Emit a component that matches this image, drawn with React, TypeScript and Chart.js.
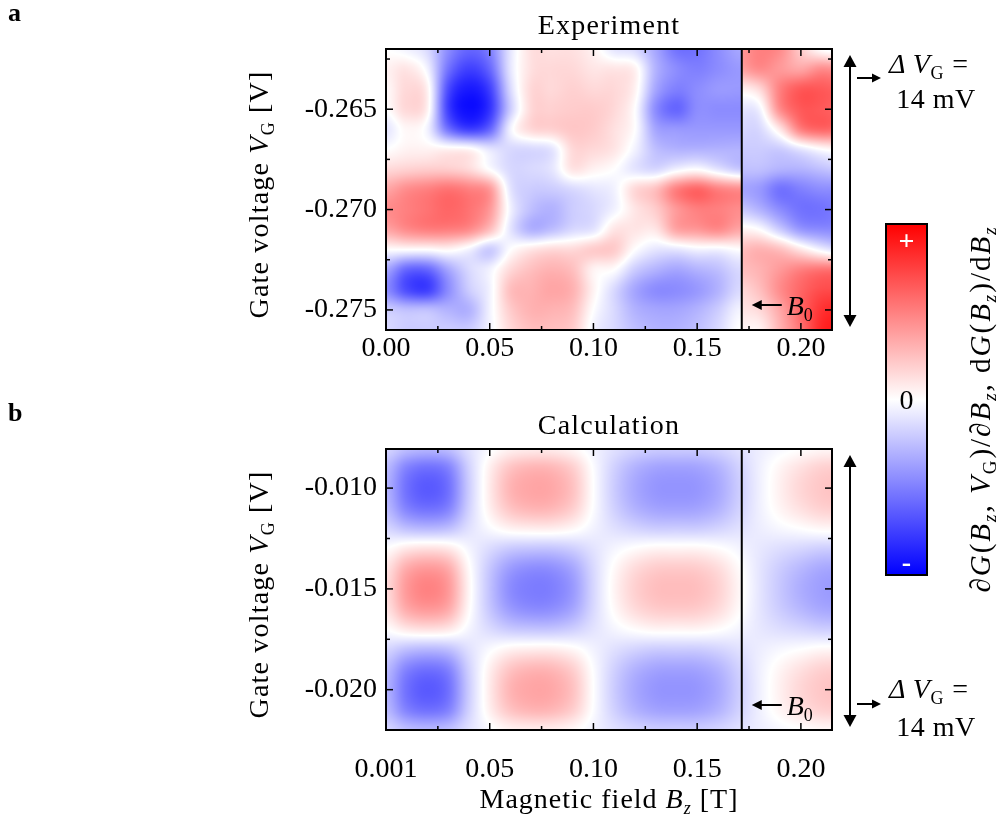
import React, { useEffect, useRef } from "react";
import { Chart, registerables } from "chart.js";

Chart.register(...registerables);

const SERIF = '"Liberation Serif", "Times New Roman", serif';

// ---- shared magnetic-field axis (T) ----
const fieldMin = 0;
const fieldMax = 0.215;
const fieldB0 = 0.1715;
const fieldMajorTicks = [0, 0.05, 0.1, 0.15, 0.2];
const fieldMinorTicks = [0.025, 0.075, 0.125, 0.175];
const expFieldLabels = ["0.00", "0.05", "0.10", "0.15", "0.20"];
const calcFieldLabels = ["0.001", "0.05", "0.10", "0.15", "0.20"];

// ---- experiment: gate axis (V) ----
const expGateMin = -0.276;
const expGateMax = -0.262;
const expGateMajorTicks = [-0.265, -0.27, -0.275];
const expGateMinorTicks = [-0.2625, -0.2675, -0.2725];
const expGateLabels = ["-0.265", "-0.270", "-0.275"];

// ---- calculation: gate axis (V) ----
const calcGateMin = -0.022;
const calcGateMax = -0.00806;
const calcGateMajorTicks = [-0.01, -0.015, -0.02];
const calcGateMinorTicks = [-0.0125, -0.0175];
const calcGateLabels = ["-0.010", "-0.015", "-0.020"];

// ---- measured map, normalised derivative, rows from -0.262 V down to -0.276 V ----
const expGate = [-0.262, -0.263, -0.264, -0.265, -0.266, -0.267, -0.268, -0.269, -0.27, -0.271, -0.272, -0.273, -0.274, -0.275, -0.276];
// below B0: partial derivative dG/dBz
const expFieldLow = [0, 0.01, 0.02, 0.03, 0.04, 0.05, 0.06, 0.07, 0.08, 0.09, 0.1, 0.11, 0.12, 0.13, 0.14, 0.15, 0.16, 0.17];
const expMapLow = [
  [0.0, -0.05, -0.15, -0.45, -0.6, -0.5, -0.1, 0.12, 0.12, 0.12, 0.05, -0.1, -0.15, -0.35, -0.55, -0.55, -0.45, -0.35],
  [0.05, 0.1, -0.05, -0.55, -0.75, -0.6, -0.1, 0.12, 0.15, 0.15, 0.1, 0.1, 0.05, -0.3, -0.45, -0.5, -0.45, -0.4],
  [0.02, 0.15, 0.05, -0.7, -0.9, -0.75, -0.15, 0.15, 0.15, 0.18, 0.15, 0.15, 0.05, -0.35, -0.5, -0.45, -0.4, -0.4],
  [0.0, 0.15, 0.05, -0.75, -0.95, -0.8, -0.2, 0.15, 0.18, 0.2, 0.2, 0.15, 0.0, -0.45, -0.6, -0.45, -0.45, -0.45],
  [-0.1, 0.03, -0.05, -0.55, -0.75, -0.6, -0.05, 0.15, 0.18, 0.22, 0.2, 0.12, 0.0, -0.35, -0.4, -0.4, -0.4, -0.4],
  [0.0, 0.05, 0.05, 0.05, 0.03, -0.1, -0.15, -0.15, -0.1, 0.15, 0.15, 0.1, -0.05, -0.25, -0.3, -0.3, -0.3, -0.3],
  [0.15, 0.18, 0.2, 0.2, 0.15, 0.0, -0.15, -0.15, -0.1, 0.1, 0.05, 0.0, -0.1, -0.15, -0.05, 0.0, -0.1, -0.2],
  [0.35, 0.45, 0.5, 0.55, 0.5, 0.4, -0.1, -0.2, -0.2, -0.15, -0.1, -0.05, 0.15, 0.25, 0.5, 0.6, 0.5, 0.45],
  [0.45, 0.5, 0.55, 0.6, 0.55, 0.4, -0.05, -0.25, -0.3, -0.2, -0.15, -0.05, 0.1, 0.2, 0.4, 0.5, 0.5, 0.45],
  [0.35, 0.45, 0.5, 0.5, 0.45, 0.25, -0.1, -0.3, -0.25, -0.15, -0.1, 0.1, 0.1, 0.1, 0.35, 0.4, 0.45, 0.35],
  [0.0, 0.0, 0.0, 0.03, -0.05, -0.2, 0.0, 0.1, 0.15, 0.15, 0.2, 0.2, 0.0, -0.1, -0.1, -0.05, -0.05, 0.0],
  [-0.35, -0.6, -0.6, -0.35, -0.15, -0.05, 0.15, 0.25, 0.3, 0.25, 0.05, 0.0, -0.2, -0.3, -0.35, -0.3, -0.25, -0.15],
  [-0.45, -0.7, -0.75, -0.45, -0.2, -0.05, 0.25, 0.3, 0.35, 0.3, 0.05, -0.15, -0.35, -0.45, -0.45, -0.4, -0.3, -0.15],
  [-0.2, -0.25, -0.25, -0.3, -0.3, -0.05, 0.2, 0.3, 0.3, 0.25, 0.0, -0.15, -0.3, -0.35, -0.35, -0.3, -0.2, -0.05],
  [-0.15, -0.2, -0.2, -0.2, -0.2, -0.05, 0.15, 0.25, 0.25, 0.2, -0.05, -0.15, -0.25, -0.3, -0.3, -0.25, -0.15, 0.0],
];
// above B0: total derivative dG/dBz
const expFieldHigh = [0.17, 0.18, 0.19, 0.2, 0.21, 0.22];
const expMapHigh = [
  [0.4, 0.5, 0.45, 0.2, 0.0, -0.05],
  [0.35, 0.45, 0.4, 0.35, 0.45, 0.4],
  [0.05, 0.15, 0.5, 0.65, 0.65, 0.6],
  [-0.1, -0.05, 0.45, 0.65, 0.65, 0.6],
  [-0.15, -0.15, 0.1, 0.5, 0.6, 0.55],
  [-0.2, -0.2, -0.2, -0.1, 0.0, 0.05],
  [-0.25, -0.25, -0.3, -0.3, -0.25, -0.2],
  [-0.35, -0.4, -0.55, -0.5, -0.45, -0.45],
  [-0.2, -0.3, -0.45, -0.55, -0.55, -0.5],
  [0.05, 0.0, -0.2, -0.4, -0.45, -0.45],
  [0.25, 0.3, 0.25, 0.1, -0.05, -0.15],
  [0.25, 0.3, 0.4, 0.5, 0.55, 0.55],
  [0.15, 0.25, 0.45, 0.6, 0.7, 0.7],
  [0.1, 0.15, 0.35, 0.6, 0.8, 0.85],
  [0.05, 0.05, 0.3, 0.55, 0.85, 0.9],
];

// ---- calculated map, rows from -0.008 V down to -0.022 V ----
const calcGate = [-0.008, -0.009, -0.01, -0.011, -0.012, -0.013, -0.014, -0.015, -0.016, -0.017, -0.018, -0.019, -0.02, -0.021, -0.022];
const calcField = [0, 0.01, 0.02, 0.03, 0.04, 0.05, 0.06, 0.07, 0.08, 0.09, 0.1, 0.11, 0.12, 0.13, 0.14, 0.15, 0.16, 0.17, 0.18, 0.19, 0.2, 0.21, 0.22];
const calcMap = [
  [-0.16, -0.25, -0.28, -0.25, -0.12, -0.02, 0.05, 0.07, 0.07, 0.03, -0.05, -0.12, -0.17, -0.2, -0.2, -0.2, -0.17, -0.12, -0.07, -0.03, 0.0, 0.03, 0.03],
  [-0.27, -0.49, -0.56, -0.49, -0.18, 0.06, 0.23, 0.29, 0.28, 0.19, -0.01, -0.18, -0.3, -0.36, -0.37, -0.36, -0.3, -0.18, -0.06, 0.04, 0.12, 0.18, 0.19],
  [-0.3, -0.56, -0.65, -0.56, -0.2, 0.08, 0.29, 0.35, 0.34, 0.24, 0.0, -0.2, -0.34, -0.41, -0.42, -0.41, -0.34, -0.2, -0.06, 0.06, 0.16, 0.22, 0.24],
  [-0.27, -0.49, -0.56, -0.49, -0.18, 0.06, 0.23, 0.29, 0.28, 0.19, -0.01, -0.18, -0.3, -0.36, -0.37, -0.36, -0.3, -0.18, -0.06, 0.04, 0.12, 0.18, 0.19],
  [-0.16, -0.25, -0.28, -0.25, -0.12, -0.02, 0.05, 0.07, 0.07, 0.03, -0.05, -0.12, -0.17, -0.2, -0.2, -0.2, -0.17, -0.12, -0.07, -0.03, 0.0, 0.03, 0.03],
  [0.0, 0.09, 0.12, 0.09, -0.04, -0.14, -0.21, -0.23, -0.23, -0.19, -0.11, -0.04, 0.01, 0.04, 0.04, 0.04, 0.01, -0.04, -0.09, -0.13, -0.16, -0.19, -0.19],
  [0.11, 0.33, 0.4, 0.33, 0.02, -0.22, -0.39, -0.45, -0.44, -0.35, -0.15, 0.02, 0.14, 0.2, 0.21, 0.2, 0.14, 0.02, -0.1, -0.2, -0.28, -0.34, -0.35],
  [0.14, 0.4, 0.49, 0.4, 0.04, -0.24, -0.45, -0.51, -0.5, -0.4, -0.16, 0.04, 0.18, 0.25, 0.26, 0.25, 0.18, 0.04, -0.1, -0.22, -0.32, -0.38, -0.4],
  [0.11, 0.33, 0.4, 0.33, 0.02, -0.22, -0.39, -0.45, -0.44, -0.35, -0.15, 0.02, 0.14, 0.2, 0.21, 0.2, 0.14, 0.02, -0.1, -0.2, -0.28, -0.34, -0.35],
  [0.0, 0.09, 0.12, 0.09, -0.04, -0.14, -0.21, -0.23, -0.23, -0.19, -0.11, -0.04, 0.01, 0.04, 0.04, 0.04, 0.01, -0.04, -0.09, -0.13, -0.16, -0.19, -0.19],
  [-0.16, -0.25, -0.28, -0.25, -0.12, -0.02, 0.05, 0.07, 0.07, 0.03, -0.05, -0.12, -0.17, -0.2, -0.2, -0.2, -0.17, -0.12, -0.07, -0.03, 0.0, 0.03, 0.03],
  [-0.27, -0.49, -0.56, -0.49, -0.18, 0.06, 0.23, 0.29, 0.28, 0.19, -0.01, -0.18, -0.3, -0.36, -0.37, -0.36, -0.3, -0.18, -0.06, 0.04, 0.12, 0.18, 0.19],
  [-0.3, -0.56, -0.65, -0.56, -0.2, 0.08, 0.29, 0.35, 0.34, 0.24, 0.0, -0.2, -0.34, -0.41, -0.42, -0.41, -0.34, -0.2, -0.06, 0.06, 0.16, 0.22, 0.24],
  [-0.27, -0.49, -0.56, -0.49, -0.18, 0.06, 0.23, 0.29, 0.28, 0.19, -0.01, -0.18, -0.3, -0.36, -0.37, -0.36, -0.3, -0.18, -0.06, 0.04, 0.12, 0.18, 0.19],
  [-0.16, -0.25, -0.28, -0.25, -0.12, -0.02, 0.05, 0.07, 0.07, 0.03, -0.05, -0.12, -0.17, -0.2, -0.2, -0.2, -0.17, -0.12, -0.07, -0.03, 0.0, 0.03, 0.03],
];

// ---------------------------------------------------------------------------

type Block = { field: number[]; gate: number[]; map: number[][]; from: number; to: number };
type Seg = { t: string; i?: boolean; s?: boolean; b?: boolean };

type PanelSpec = {
  letter: string;
  title: string;
  blocks: Block[];
  gateMin: number;
  gateMax: number;
  gateMajor: number[];
  gateMinor: number[];
  gateLabels: string[];
  fieldLabels: string[];
  fieldLabelPad: number;
  deltaAt: "top" | "bottom";
  showFieldTitle: boolean;
  showColorbar: boolean;
};

function clampIdx(i: number, n: number) {
  return i < 0 ? 0 : i >= n ? n - 1 : i;
}

function cubic(p0: number, p1: number, p2: number, p3: number, t: number) {
  return p1 + 0.5 * t * (p2 - p0 + t * (2 * p0 - 5 * p1 + 4 * p2 - p3 + t * (3 * (p1 - p2) + p3 - p0)));
}

// Catmull-Rom interpolation of a grid at fractional (column, row) indices
function sampleGrid(map: number[][], fx: number, fy: number) {
  const rows = map.length;
  const cols = map[0].length;
  const ix = Math.floor(fx);
  const iy = Math.floor(fy);
  const tx = fx - ix;
  const ty = fy - iy;
  const rowVal = (k: number) => {
    const r = map[clampIdx(iy + k, rows)];
    return cubic(r[clampIdx(ix - 1, cols)], r[clampIdx(ix, cols)], r[clampIdx(ix + 1, cols)], r[clampIdx(ix + 2, cols)], tx);
  };
  return cubic(rowVal(-1), rowVal(0), rowVal(1), rowVal(2), ty);
}

// blue - white - red diverging scale on [-1, 1]
function colour(v: number): [number, number, number] {
  const t = Math.max(-1, Math.min(1, v));
  if (t >= 0) {
    const g = Math.round(255 * (1 - t));
    return [255, g, g];
  }
  const g = Math.round(255 * (1 + t));
  return [g, g, 255];
}

function segFont(seg: Seg, size: number) {
  const sz = seg.s ? Math.round(size * 0.64) : size;
  return `${seg.i ? "italic " : ""}${seg.b ? "bold " : ""}${sz}px ${SERIF}`;
}

function drawRich(
  ctx: CanvasRenderingContext2D,
  segs: Seg[],
  x: number,
  y: number,
  size: number,
  align: "left" | "center" | "right",
  spacing = 0
) {
  (ctx as any).letterSpacing = `${spacing}px`;
  let w = 0;
  for (const s of segs) {
    ctx.font = segFont(s, size);
    w += ctx.measureText(s.t).width;
  }
  let cx = align === "center" ? x - w / 2 : align === "right" ? x - w : x;
  ctx.textAlign = "left";
  ctx.textBaseline = "alphabetic";
  for (const s of segs) {
    ctx.font = segFont(s, size);
    ctx.fillText(s.t, cx, y + (s.s ? size * 0.22 : 0));
    cx += ctx.measureText(s.t).width;
  }
  (ctx as any).letterSpacing = "0px";
}

function line(ctx: CanvasRenderingContext2D, x1: number, y1: number, x2: number, y2: number) {
  ctx.beginPath();
  ctx.moveTo(x1, y1);
  ctx.lineTo(x2, y2);
  ctx.stroke();
}

function tri(ctx: CanvasRenderingContext2D, pts: number[]) {
  ctx.beginPath();
  ctx.moveTo(pts[0], pts[1]);
  ctx.lineTo(pts[2], pts[3]);
  ctx.lineTo(pts[4], pts[5]);
  ctx.closePath();
  ctx.fill();
}

function makeHeatmapPlugin(blocks: Block[]) {
  return {
    id: "heatmap",
    beforeDatasetsDraw(chart: any) {
      const { ctx, chartArea: a, scales } = chart;
      const xs = scales.x;
      const ys = scales.y;
      const left = Math.round(a.left);
      const top = Math.round(a.top);
      const w = Math.round(a.right) - left;
      const h = Math.round(a.bottom) - top;
      const off = document.createElement("canvas");
      off.width = w;
      off.height = h;
      const octx = off.getContext("2d")!;
      const img = octx.createImageData(w, h);
      const colBlock: Block[] = [];
      const colFx: number[] = [];
      for (let i = 0; i < w; i++) {
        const xv = xs.getValueForPixel(left + i + 0.5);
        const b = blocks.find((bl) => xv >= bl.from && xv < bl.to) || blocks[blocks.length - 1];
        colBlock.push(b);
        colFx.push((xv - b.field[0]) / (b.field[1] - b.field[0]));
      }
      for (let j = 0; j < h; j++) {
        const yv = ys.getValueForPixel(top + j + 0.5);
        for (let i = 0; i < w; i++) {
          const b = colBlock[i];
          const fy = (b.gate[0] - yv) / (b.gate[0] - b.gate[1]);
          const [r, g, bl] = colour(sampleGrid(b.map, colFx[i], fy));
          const k = (j * w + i) * 4;
          img.data[k] = r;
          img.data[k + 1] = g;
          img.data[k + 2] = bl;
          img.data[k + 3] = 255;
        }
      }
      octx.putImageData(img, 0, 0);
      ctx.drawImage(off, left, top);
    },
  };
}

function makeFramePlugin(spec: PanelSpec) {
  return {
    id: "frame",
    afterDraw(chart: any) {
      const { ctx, chartArea: a, scales } = chart;
      const xs = scales.x;
      const ys = scales.y;
      ctx.save();
      ctx.strokeStyle = "#000";
      ctx.fillStyle = "#000";

      // inward tick marks on all four sides
      ctx.lineWidth = 1.5;
      const xTicks: [number[], number][] = [[fieldMajorTicks, 7], [fieldMinorTicks, 4]];
      for (const [vals, len] of xTicks) {
        for (const v of vals) {
          const px = xs.getPixelForValue(v);
          line(ctx, px, a.bottom, px, a.bottom - len);
          line(ctx, px, a.top, px, a.top + len);
        }
      }
      const yTicks: [number[], number][] = [[spec.gateMajor, 7], [spec.gateMinor, 4]];
      for (const [vals, len] of yTicks) {
        for (const v of vals) {
          const py = ys.getPixelForValue(v);
          line(ctx, a.left, py, a.left + len, py);
          line(ctx, a.right, py, a.right - len, py);
        }
      }

      // B0 marker line and frame
      ctx.lineWidth = 2;
      const bx = xs.getPixelForValue(fieldB0);
      line(ctx, bx, a.top, bx, a.bottom);
      ctx.strokeRect(a.left, a.top, a.right - a.left, a.bottom - a.top);

      // B0 label
      const by = a.bottom - 25;
      ctx.lineWidth = 2;
      line(ctx, bx + 16, by, bx + 40, by);
      tri(ctx, [bx + 10, by, bx + 20, by - 5, bx + 20, by + 5]);
      drawRich(ctx, [{ t: "B", i: true }, { t: "0", s: true }], bx + 45, a.bottom - 15, 28, "left");

      // panel title and letter
      drawRich(ctx, [{ t: spec.title }], (a.left + a.right) / 2, a.top - 15, 28, "center", 1.2);
      drawRich(ctx, [{ t: spec.letter, b: true }], 8, a.top - 28, 26, "left");

      // gate-voltage axis title
      ctx.save();
      ctx.translate(268, (a.top + a.bottom) / 2 + 5);
      ctx.rotate(-Math.PI / 2);
      drawRich(ctx, [{ t: "Gate voltage " }, { t: "V", i: true }, { t: "G", s: true }, { t: " [V]" }], 0, 0, 28, "center", 1.2);
      ctx.restore();

      if (spec.showFieldTitle) {
        drawRich(
          ctx,
          [{ t: "Magnetic field " }, { t: "B", i: true }, { t: "z", s: true, i: true }, { t: " [T]" }],
          (a.left + a.right) / 2,
          a.bottom + 78,
          28,
          "center",
          1
        );
      }

      // gate-range double arrow
      const ax = a.right + 18;
      const y1 = a.top + 6;
      const y2 = a.bottom - 3;
      ctx.lineWidth = 2;
      line(ctx, ax, y1 + 8, ax, y2 - 8);
      tri(ctx, [ax, y1, ax - 6.5, y1 + 12, ax + 6.5, y1 + 12]);
      tri(ctx, [ax, y2, ax - 6.5, y2 - 12, ax + 6.5, y2 - 12]);

      // gate-range annotation
      const arrowY = spec.deltaAt === "top" ? a.top + 29 : a.bottom - 26;
      const l1 = spec.deltaAt === "top" ? a.top + 24 : a.bottom - 32;
      const l2 = spec.deltaAt === "top" ? a.top + 59 : a.bottom + 6;
      line(ctx, a.right + 25, arrowY, a.right + 42, arrowY);
      tri(ctx, [a.right + 49, arrowY, a.right + 40, arrowY - 4.5, a.right + 40, arrowY + 4.5]);
      drawRich(ctx, [{ t: "\u0394\u2009", i: true }, { t: "V", i: true }, { t: "G", s: true }, { t: " =" }], a.right + 57, l1, 28, "left", 0.8);
      drawRich(ctx, [{ t: "14 mV" }], a.right + 104, l2, 28, "center", 0.5);

      if (spec.showColorbar) {
        const cx0 = 886;
        const cy0 = 224;
        const cw = 41;
        const ch = 351;
        const grad = ctx.createLinearGradient(0, cy0, 0, cy0 + ch);
        grad.addColorStop(0, "rgb(255,0,0)");
        grad.addColorStop(0.5, "rgb(255,255,255)");
        grad.addColorStop(1, "rgb(0,0,255)");
        ctx.fillStyle = grad;
        ctx.fillRect(cx0, cy0, cw, ch);
        ctx.lineWidth = 2;
        ctx.strokeRect(cx0, cy0, cw, ch);
        ctx.fillStyle = "#fff";
        ctx.textAlign = "center";
        ctx.textBaseline = "middle";
        ctx.font = `bold 28px ${SERIF}`;
        ctx.fillText("+", cx0 + cw / 2, cy0 + 19);
        ctx.fillText("-", cx0 + cw / 2, cy0 + ch - 11);
        ctx.fillStyle = "#000";
        drawRich(ctx, [{ t: "0" }], cx0 + cw / 2, 409, 28, "center");

        ctx.save();
        ctx.translate(990, 409);
        ctx.rotate(-Math.PI / 2);
        drawRich(
          ctx,
          [
            { t: "\u2202" }, { t: "G", i: true }, { t: "(" }, { t: "B", i: true }, { t: "z", i: true, s: true },
            { t: ", " }, { t: "V", i: true }, { t: "G", s: true }, { t: ")/\u2202" }, { t: "B", i: true },
            { t: "z", i: true, s: true }, { t: ", d" }, { t: "G", i: true }, { t: "(" }, { t: "B", i: true },
            { t: "z", i: true, s: true }, { t: ")/d" }, { t: "B", i: true }, { t: "z", i: true, s: true },
          ],
          0,
          0,
          29,
          "center",
          2
        );
        ctx.restore();
      }
      ctx.restore();
    },
  };
}

function buildConfig(spec: PanelSpec, canvasHeight: number): any {
  // plot frame: x 386..832, top 49 px below the canvas top, 281 px tall
  const axisW = 100;
  const axisH = 44 + spec.fieldLabelPad;
  const plotTop = 49;
  const plotH = 281;
  return {
    type: "scatter",
    data: { datasets: [] },
    options: {
      responsive: false,
      animation: false,
      events: [],
      layout: {
        padding: { left: 386 - axisW, right: 998 - 832, top: plotTop, bottom: canvasHeight - plotTop - plotH - axisH },
      },
      plugins: { legend: { display: false }, tooltip: { enabled: false }, title: { display: false } },
      scales: {
        x: {
          type: "linear",
          min: fieldMin,
          max: fieldMax,
          grid: { display: false, drawTicks: false },
          border: { display: false },
          afterFit: (s: any) => {
            s.height = axisH;
          },
          afterBuildTicks: (s: any) => {
            s.ticks = fieldMajorTicks.map((v) => ({ value: v }));
          },
          ticks: {
            autoSkip: false,
            maxRotation: 0,
            minRotation: 0,
            padding: spec.fieldLabelPad,
            color: "#000",
            font: { family: SERIF, size: 28 },
            callback: (_v: number, i: number) => spec.fieldLabels[i],
          },
        },
        y: {
          type: "linear",
          min: spec.gateMin,
          max: spec.gateMax,
          grid: { display: false, drawTicks: false },
          border: { display: false },
          afterFit: (s: any) => {
            s.width = axisW;
          },
          afterBuildTicks: (s: any) => {
            s.ticks = spec.gateMajor.map((v) => ({ value: v }));
          },
          ticks: {
            autoSkip: false,
            padding: 9,
            color: "#000",
            font: { family: SERIF, size: 28 },
            callback: (_v: number, i: number) => spec.gateLabels[i],
          },
        },
      },
    },
    plugins: [makeHeatmapPlugin(spec.blocks), makeFramePlugin(spec)],
  };
}

const experimentPanel: PanelSpec = {
  letter: "a",
  title: "Experiment",
  blocks: [
    { field: expFieldLow, gate: expGate, map: expMapLow, from: -Infinity, to: fieldB0 },
    { field: expFieldHigh, gate: expGate, map: expMapHigh, from: fieldB0, to: Infinity },
  ],
  gateMin: expGateMin,
  gateMax: expGateMax,
  gateMajor: expGateMajorTicks,
  gateMinor: expGateMinorTicks,
  gateLabels: expGateLabels,
  fieldLabels: expFieldLabels,
  fieldLabelPad: 2,
  deltaAt: "top",
  showFieldTitle: false,
  showColorbar: true,
};

const calculationPanel: PanelSpec = {
  letter: "b",
  title: "Calculation",
  blocks: [{ field: calcField, gate: calcGate, map: calcMap, from: -Infinity, to: Infinity }],
  gateMin: calcGateMin,
  gateMax: calcGateMax,
  gateMajor: calcGateMajorTicks,
  gateMinor: calcGateMinorTicks,
  gateLabels: calcGateLabels,
  fieldLabels: calcFieldLabels,
  fieldLabelPad: 23,
  deltaAt: "bottom",
  showFieldTitle: true,
  showColorbar: false,
};

function Panel({ spec, top, height }: { spec: PanelSpec; top: number; height: number }) {
  const ref = useRef<HTMLCanvasElement>(null);
  useEffect(() => {
    const chart = new Chart(ref.current as HTMLCanvasElement, buildConfig(spec, height));
    return () => chart.destroy();
  }, [spec, height]);
  return (
    <canvas
      ref={ref}
      width={998}
      height={height}
      style={{ position: "absolute", left: 0, top, width: 998, height, display: "block" }}
    />
  );
}

export default function App() {
  return (
    <div style={{ position: "absolute", left: 0, top: 0, width: 998, height: 819, background: "#fff", overflow: "hidden" }}>
      <Panel spec={experimentPanel} top={0} height={819} />
      <Panel spec={calculationPanel} top={400} height={419} />
    </div>
  );
}
